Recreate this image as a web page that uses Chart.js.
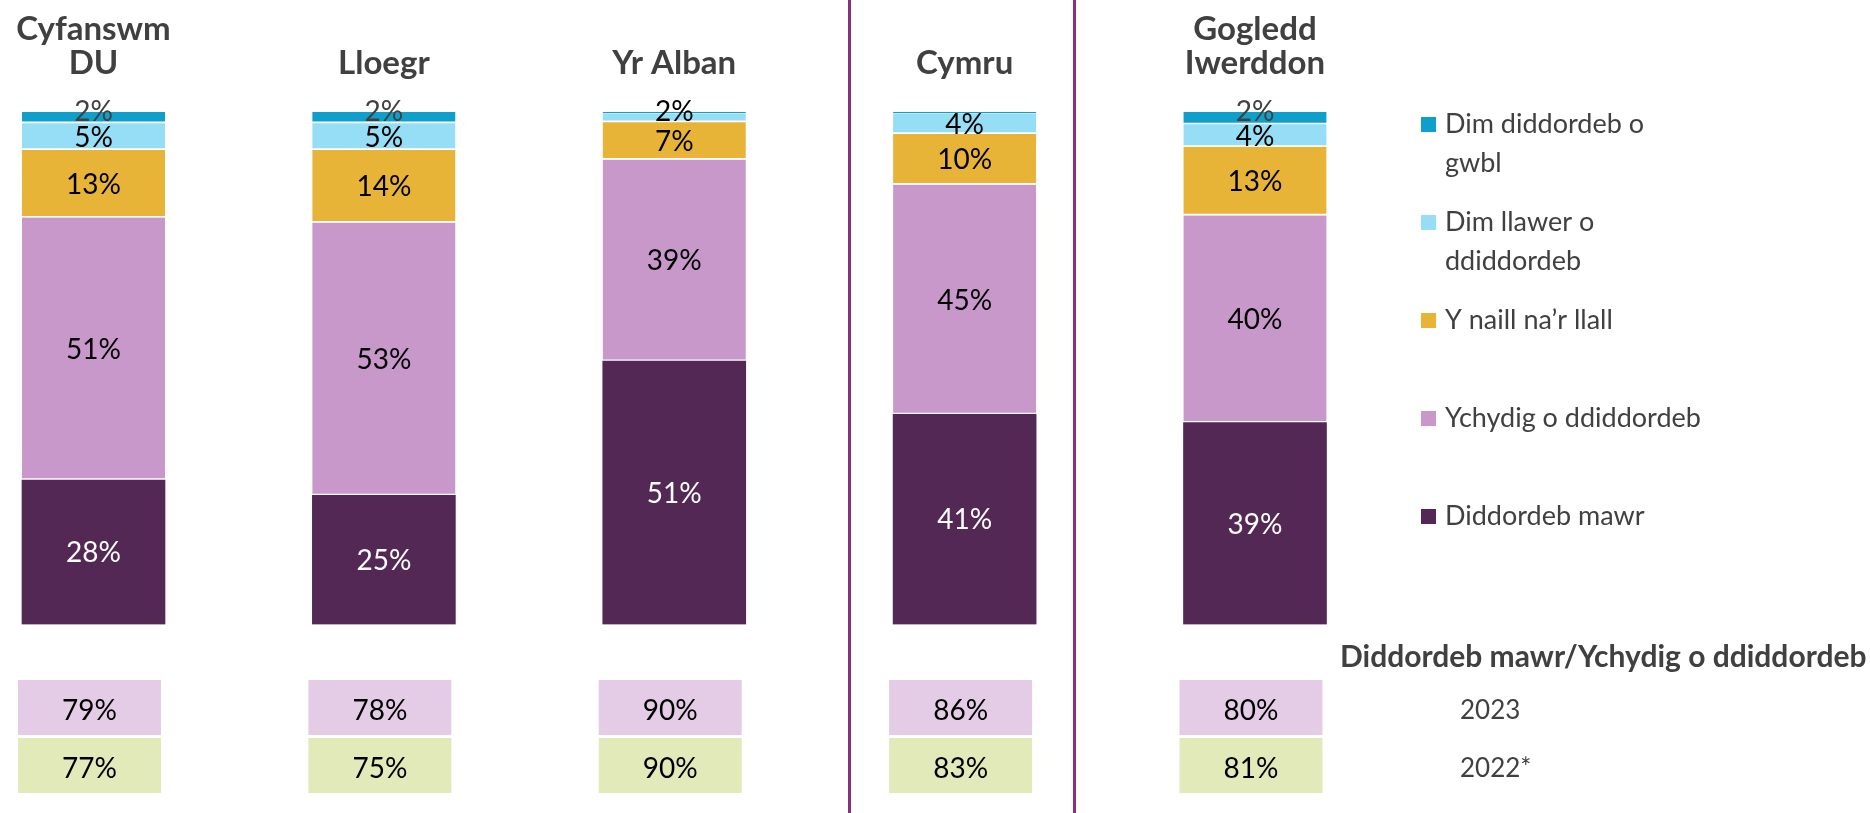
<!DOCTYPE html>
<html>
<head>
<meta charset="utf-8">
<script src="https://cdn.jsdelivr.net/npm/chart.js@4.4.1/dist/chart.umd.min.js"></script>
<style>
html,body{margin:0;padding:0;background:#fff;}
canvas{display:block;}
</style>
</head>
<body>
<canvas id="c" width="1870" height="813"></canvas>
<script>
// ---- data ----
const categories = [['Cyfanswm', 'DU'], 'Lloegr', 'Yr Alban', 'Cymru', ['Gogledd', 'Iwerddon']];

// stacked shares (%) from bottom to top
const diddordebMawr     = [28.2, 25.2, 51.4, 41.0, 39.4];
const ychydigDdiddordeb = [51.2, 53.2, 39.3, 44.8, 40.4];
const naillNaLlall      = [13.2, 14.2,  7.3,  9.9, 13.4];
const dimLlawer         = [ 5.2,  5.2,  1.6,  3.9,  4.4];
const dimGwbl           = [ 2.2,  2.2,  0.4,  0.4,  2.4];

// legend texts (as wrapped in the reference)
const nameMawr    = ['Diddordeb mawr'];
const nameYchydig = ['Ychydig o ddiddordeb'];
const nameNaill   = ['Y naill na’r llall'];
const nameLlawer  = ['Dim llawer o', 'ddiddordeb'];
const nameGwbl    = ['Dim diddordeb o', 'gwbl'];

// summary table
const tableTitle = 'Diddordeb mawr/Ychydig o ddiddordeb';
const rowLabels = ['2023', '2022*'];
const interest2023 = [79, 78, 90, 86, 80];
const interest2022 = [77, 75, 90, 83, 81];

// ---- chart ----
const FONT = 'Lato, "Open Sans", sans-serif';
const toPoints = arr => arr.map((v, i) => ({ x: i, y: v }));

function ds(name, values, color, labelColor, bottomBorder) {
  return {
    label: name.join(' '),
    legendLines: name,
    data: toPoints(values),
    backgroundColor: color,
    borderColor: '#ffffff',
    borderWidth: { top: 0, left: 0, right: 0, bottom: bottomBorder },
    borderSkipped: false,
    barThickness: 143,
    labelColor: labelColor
  };
}

const datasets = [
  ds(nameMawr, diddordebMawr, '#532855', '#ffffff', 0),
  ds(nameYchydig, ychydigDdiddordeb, '#C998CB', '#000000', 2),
  ds(nameNaill, naillNaLlall, '#E8B437', '#000000', 2),
  ds(nameLlawer, dimLlawer, '#95DEF5', '#000000', 2),
  ds(nameGwbl, dimGwbl, '#109FCB', '#404040', 2)
];

const overlay = {
  id: 'overlay',
  afterDatasetsDraw(chart) {
    const ctx = chart.ctx;
    const xs = chart.scales.x;
    ctx.save();

    // category titles above bars
    ctx.font = 'bold 33px ' + FONT;
    ctx.fillStyle = '#404040';
    ctx.textAlign = 'center';
    ctx.textBaseline = 'alphabetic';
    categories.forEach((c, i) => {
      const lines = Array.isArray(c) ? c : [c];
      const px = xs.getPixelForValue(i);
      lines.forEach((line, j) => {
        ctx.fillText(line, px, 74 - (lines.length - 1 - j) * 34);
      });
    });

    // segment labels
    ctx.font = '28px ' + FONT;
    ctx.textAlign = 'center';
    chart.data.datasets.forEach((d, di) => {
      const meta = chart.getDatasetMeta(di);
      meta.data.forEach((bar, i) => {
        const v = d.data[i].y;
        if (v < 1) return;
        const cy = (bar.y + bar.base) / 2 + (v < 2.5 ? -7 : 0);
        ctx.fillStyle = d.labelColor;
        ctx.fillText(Math.round(v) + '%', bar.x, cy + 10);
      });
    });

    // summary table
    const meta0 = chart.getDatasetMeta(0);
    const rows = [
      { vals: interest2023, color: '#E5CCE6', top: 680 },
      { vals: interest2022, color: '#E2EAB9', top: 738 }
    ];
    const rowH = 55;
    rows.forEach((r, ri) => {
      meta0.data.forEach((bar, i) => {
        const cx = bar.x - 4;
        const w = bar.width;
        ctx.fillStyle = r.color;
        ctx.fillRect(cx - w / 2, r.top, w, rowH);
        ctx.fillStyle = '#000000';
        ctx.font = '28px ' + FONT;
        ctx.textAlign = 'center';
        ctx.fillText(r.vals[i] + '%', cx, r.top + rowH / 2 + 12);
      });
      ctx.fillStyle = '#404040';
      ctx.font = '26px ' + FONT;
      ctx.textAlign = 'left';
      ctx.fillText(rowLabels[ri], 1460, r.top + rowH / 2 + 11);
    });
    ctx.fillStyle = '#404040';
    ctx.font = 'bold 30px ' + FONT;
    ctx.textAlign = 'left';
    ctx.fillText(tableTitle, 1340, 667);

    // legend (top of stack first)
    ctx.font = '27px ' + FONT;
    const n = chart.data.datasets.length;
    for (let k = 0; k < n; k++) {
      const d = chart.data.datasets[n - 1 - k];
      const base = 133 + 98 * k;
      ctx.fillStyle = d.backgroundColor;
      ctx.fillRect(1421, base - 16, 15, 15);
      ctx.fillStyle = '#404040';
      d.legendLines.forEach((line, j) => ctx.fillText(line, 1445, base + j * 38.5));
    }

    // separators
    ctx.strokeStyle = '#8A2E80';
    ctx.lineWidth = 3;
    [849.5, 1074.5].forEach(px => {
      ctx.beginPath();
      ctx.moveTo(px, 0);
      ctx.lineTo(px, chart.height);
      ctx.stroke();
    });
    ctx.restore();
  }
};

new Chart(document.getElementById('c'), {
  type: 'bar',
  data: { datasets },
  options: {
    responsive: false,
    animation: false,
    events: [],
    layout: { padding: { top: 112, bottom: 188.5, left: 0, right: 0 } },
    plugins: { legend: { display: false }, tooltip: { enabled: false } },
    scales: {
      x: {
        type: 'linear',
        display: false,
        stacked: true,
        bounds: 'data',
        offset: false,
        min: -0.322,
        max: 6.118,
        afterBuildTicks: axis => { axis.ticks = categories.map((c, i) => ({ value: i })); }
      },
      y: {
        stacked: true,
        display: false,
        min: 0,
        max: 100
      }
    }
  },
  plugins: [overlay]
});
</script>
</body>
</html>
